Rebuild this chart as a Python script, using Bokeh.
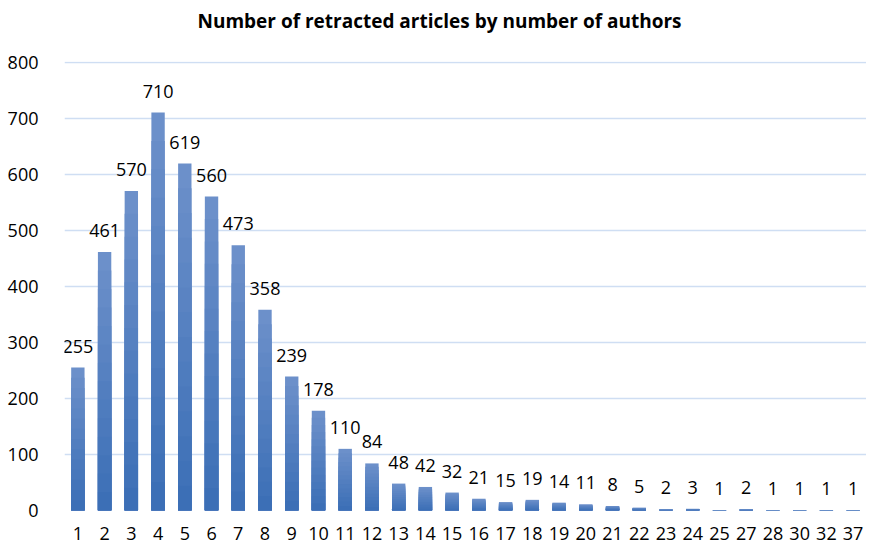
from bokeh.plotting import figure
from bokeh.models import ColumnDataSource, LabelSet, Title, FactorRange, Range1d, FixedTicker
from bokeh.core.properties import value
from bokeh.embed import file_html
from bokeh.resources import INLINE

authors = ["1", "2", "3", "4", "5", "6", "7", "8", "9", "10", "11", "12", "13", "14", "15",
           "16", "17", "18", "19", "20", "21", "22", "23", "24", "25", "27", "28", "30", "32", "37"]
articles = [255, 461, 570, 710, 619, 560, 473, 358, 239, 178, 110, 84, 48, 42, 32,
            21, 15, 19, 14, 11, 8, 5, 2, 3, 1, 2, 1, 1, 1, 1]
y_ticks = [0, 100, 200, 300, 400, 500, 600, 700, 800]
title_text = "Number of retracted articles by number of authors"

FONT = "Open Sans"

p = figure(width=866, height=543,
           x_range=FactorRange(factors=authors),
           y_range=Range1d(0, 801),
           output_backend="svg", toolbar_location=None,
           min_border_left=64, min_border_right=0,
           min_border_top=59, min_border_bottom=33)

p.title.text = title_text
p.title.align = "left"
p.title.offset = 133
p.title.text_font = FONT
p.title.text_font_style = "bold"
p.title.text_font_size = "19px"
p.title.text_color = "#000000"
p.title.standoff = 10

# empty spacer title between the frame and the main title
spacer = Title(text=" ", text_font_size="1px", standoff=20)
p.add_layout(spacer, "above")

# gradient bars: light at top, darker toward the base
top_rgb = (108, 144, 202)
bot_rgb = (60, 111, 182)
steps = 14
for k in range(steps):
    f = 1 - k / steps
    t = k / (steps - 1)
    c = tuple(int(round(top_rgb[i] + (bot_rgb[i] - top_rgb[i]) * t)) for i in range(3))
    src = ColumnDataSource(dict(x=authors, top=[v * f for v in articles]))
    p.vbar(x="x", top="top", width=0.5, source=src,
           fill_color="#%02x%02x%02x" % c, line_color=None)

lab_src = ColumnDataSource(dict(x=authors, y=articles, txt=[str(v) for v in articles]))
labels = LabelSet(x="x", y="y", text="txt", source=lab_src,
                  text_align="center", text_baseline="alphabetic",
                  y_offset=15, text_font=value(FONT), text_font_size="18px",
                  text_color="#000000")
p.add_layout(labels)

p.xgrid.visible = False
p.ygrid.grid_line_color = "#cfdef3"
p.ygrid.grid_line_width = 1.5
p.outline_line_color = None

p.yaxis.ticker = FixedTicker(ticks=y_ticks)
for ax in (p.xaxis[0], p.yaxis[0]):
    ax.axis_line_color = None
    ax.major_tick_line_color = None
    ax.minor_tick_line_color = None
    ax.major_label_text_font = FONT
    ax.major_label_text_font_size = "18px"
    ax.major_label_text_color = "#000000"
p.yaxis.major_label_standoff = 20
p.xaxis.major_label_standoff = 10

open("out.html", "w").write(file_html(p, INLINE))
